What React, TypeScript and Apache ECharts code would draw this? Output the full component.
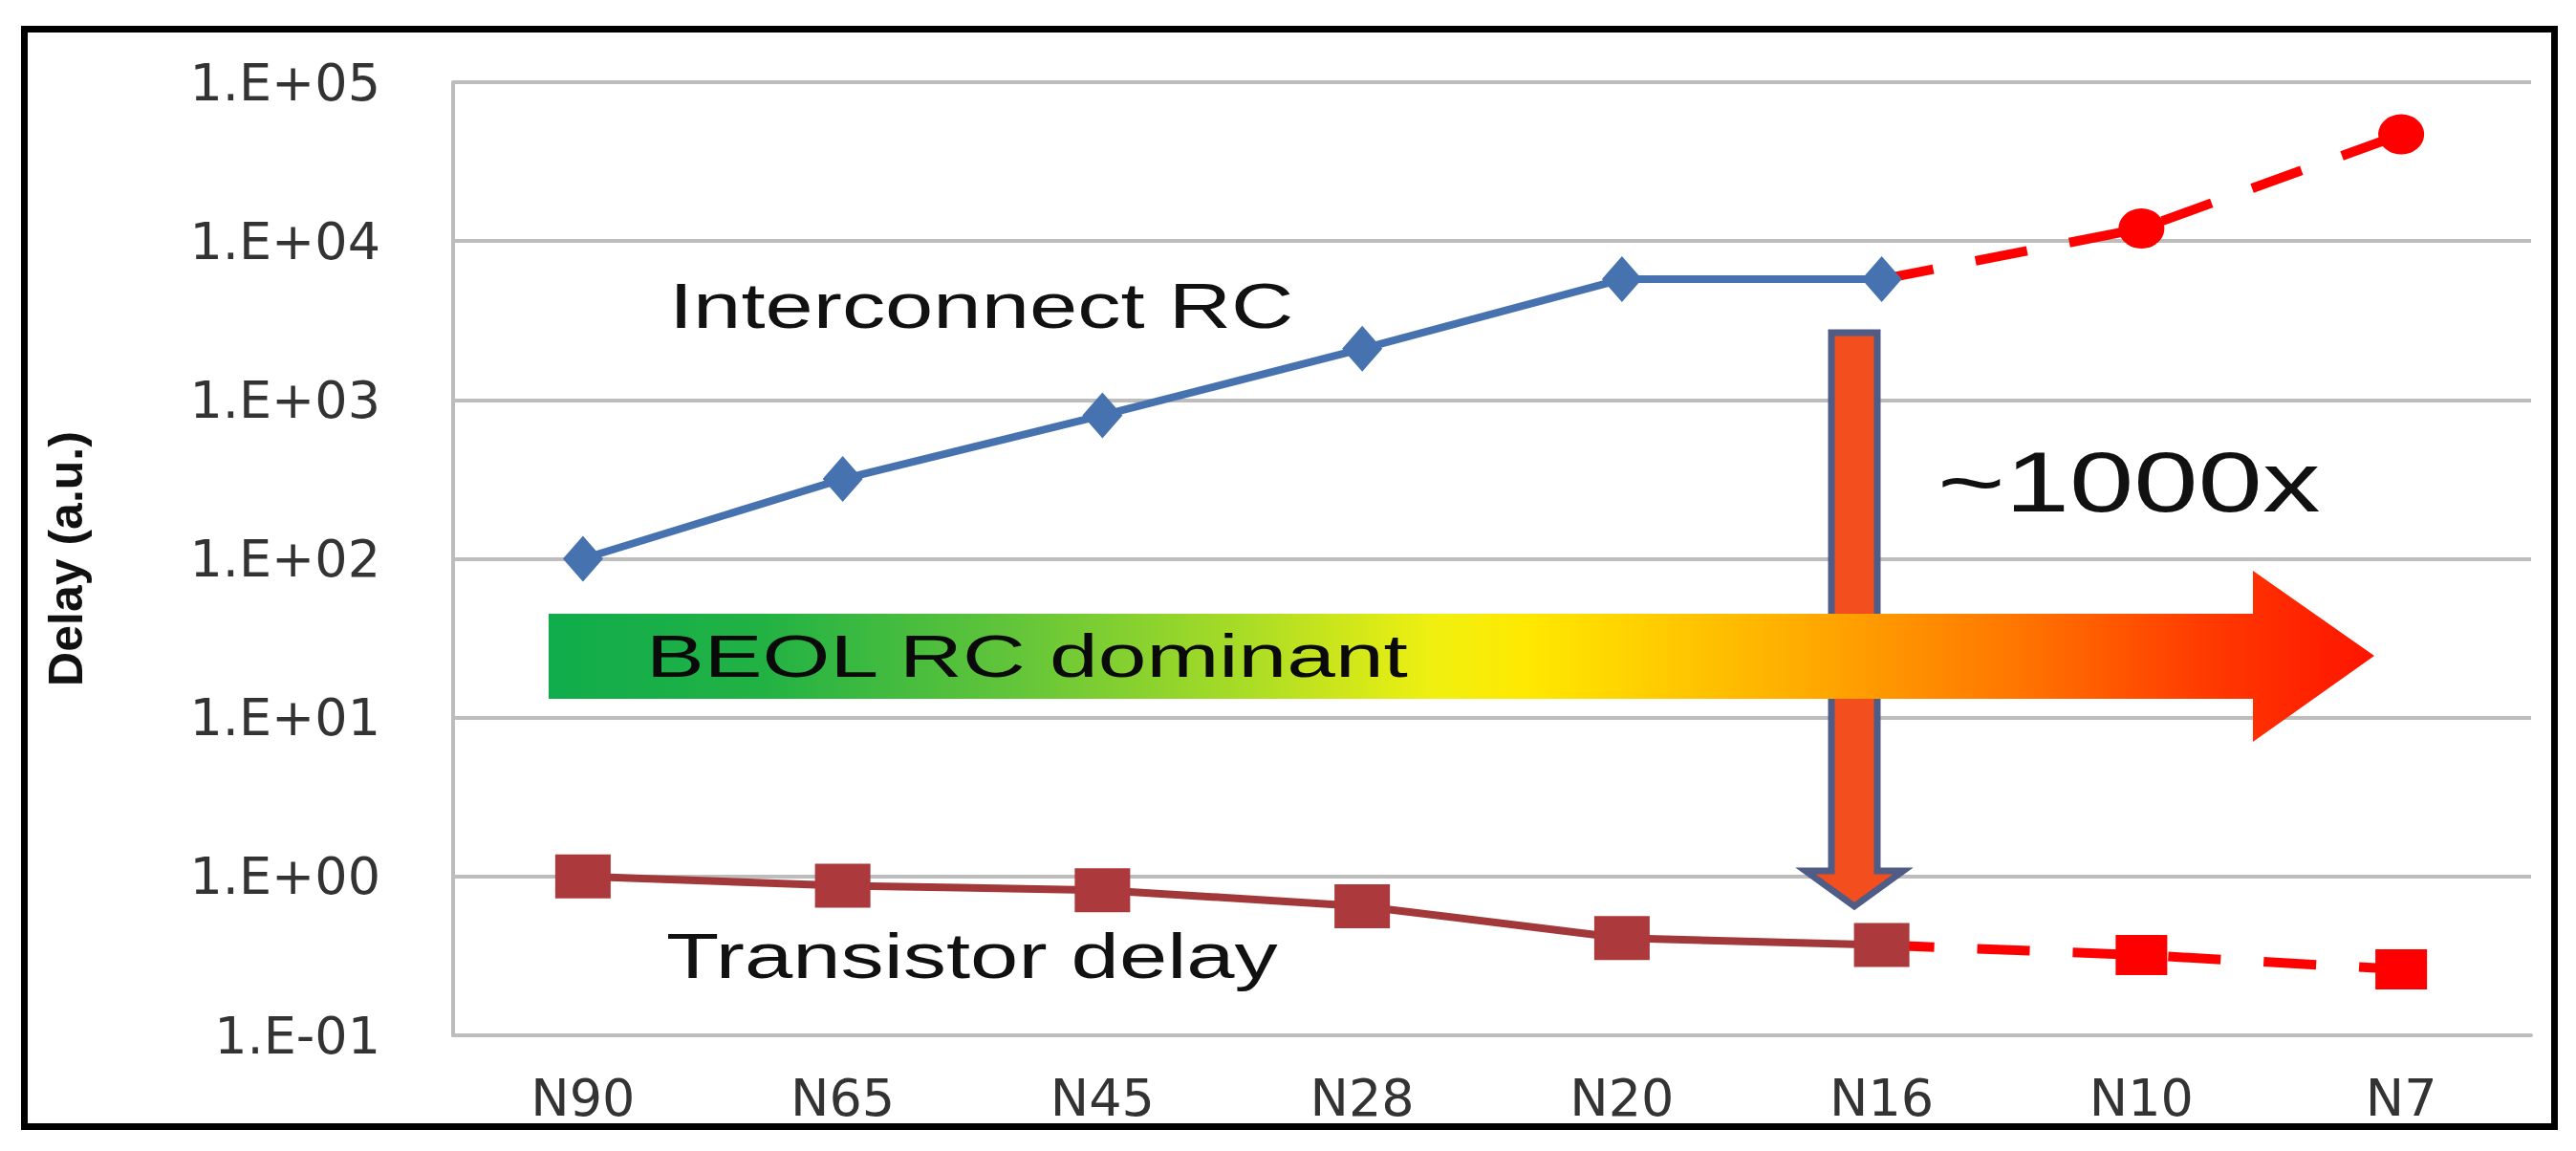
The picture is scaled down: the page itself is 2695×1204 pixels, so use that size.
import React, { useEffect, useRef } from 'react';
import * as echarts from 'echarts';

const categories = ['N90', 'N65', 'N45', 'N28', 'N20', 'N16', 'N10', 'N7'];
const interconnectRC = [100, 318, 800, 2100, 5750, 5750, null, null];
const interconnectProjected = [null, null, null, null, null, 5750, 12000, 47000];
const transistorDelay = [1.0, 0.875, 0.82, 0.65, 0.41, 0.37, null, null];
const transistorProjected = [null, null, null, null, null, 0.37, 0.32, 0.26];
const yTickLabels = ['1.E-01', '1.E+00', '1.E+01', '1.E+02', '1.E+03', '1.E+04', '1.E+05'];

const GRID = '#BDBDBD';

function projected(arr: (number | null)[], symbol: string) {
  let first = true;
  return arr.map((v) => {
    if (v == null) return null;
    if (first) {
      first = false;
      return { value: v, symbol: 'none' };
    }
    return { value: v, symbol };
  });
}

export default function App() {
  const ref = useRef<HTMLDivElement>(null);
  useEffect(() => {
    if (!ref.current) return;
    const chart = echarts.init(ref.current, undefined, { renderer: 'svg' });
    const option: any = {
      animation: false,
      backgroundColor: '#ffffff',
      grid: { left: 474, right: 47, top: 86, bottom: 121, containLabel: false },
      xAxis: {
        type: 'category',
        data: categories,
        boundaryGap: true,
        axisTick: { show: false },
        axisLine: { show: true, lineStyle: { color: GRID, width: 4 } },
        axisLabel: { margin: 38, fontFamily: 'DejaVu Sans', fontSize: 54, color: '#333' },
        splitLine: { show: false },
      },
      yAxis: {
        type: 'log',
        logBase: 10,
        min: 0.1,
        max: 100000,
        splitNumber: 6,
        name: 'Delay (a.u.)',
        nameLocation: 'middle',
        nameGap: 380,
        nameRotate: 90,
        nameTextStyle: { fontFamily: 'Liberation Sans', fontWeight: 'bold', fontSize: 50, color: '#111' },
        axisLine: { show: true, lineStyle: { color: GRID, width: 4 } },
        axisTick: { show: false },
        minorTick: { show: false },
        splitLine: { show: true, lineStyle: { color: GRID, width: 4 } },
        axisLabel: {
          margin: 76,
          fontFamily: 'DejaVu Sans',
          fontSize: 54,
          color: '#333',
          formatter: (v: number) => {
            const e = Math.round(Math.log10(v));
            return yTickLabels[e + 1] ?? '';
          },
        },
      },
      series: [
        {
          name: 'Interconnect RC',
          type: 'line',
          data: interconnectRC,
          symbol: 'diamond',
          symbolSize: [42, 48],
          lineStyle: { color: '#4673B0', width: 8 },
          itemStyle: { color: '#4673B0' },
        },
        {
          name: 'Transistor delay',
          type: 'line',
          data: transistorDelay,
          symbol: 'rect',
          symbolSize: [58, 46],
          lineStyle: { color: '#A3383A', width: 8 },
          itemStyle: { color: '#AC3A3C' },
        },
        {
          name: 'Interconnect RC (projected)',
          type: 'line',
          data: projected(interconnectProjected, 'circle'),
          symbolSize: [48, 42],
          lineStyle: { color: '#FF0000', width: 10, type: [55, 45] },
          itemStyle: { color: '#FF0000' },
        },
        {
          name: 'Transistor delay (projected)',
          type: 'line',
          data: projected(transistorProjected, 'rect'),
          symbolSize: [54, 42],
          lineStyle: { color: '#FF0000', width: 10, type: [55, 45] },
          itemStyle: { color: '#FF0000' },
        },
      ],
      graphic: [
        {
          type: 'polygon',
          shape: {
            points: [
              [1916, 348], [1964, 348], [1964, 911], [1991, 911], [1940, 948], [1889, 911], [1916, 911],
            ],
          },
          style: { fill: '#F24E1E', stroke: '#4E5C86', lineWidth: 7 },
          z: 10,
        },
        {
          type: 'polygon',
          shape: {
            points: [
              [574, 642], [2357, 642], [2357, 597], [2484, 686], [2357, 776], [2357, 731], [574, 731],
            ],
          },
          style: {
            fill: new echarts.graphic.LinearGradient(0, 0, 1, 0, [
              { offset: 0, color: '#10AC4C' },
              { offset: 0.118, color: '#22B244' },
              { offset: 0.25, color: '#60C43A' },
              { offset: 0.38, color: '#A8DC26' },
              { offset: 0.485, color: '#F0F010' },
              { offset: 0.537, color: '#FFE800' },
              { offset: 0.668, color: '#FFB400' },
              { offset: 0.8, color: '#FF7800' },
              { offset: 0.904, color: '#FF3C00' },
              { offset: 1, color: '#FF1400' },
            ]),
          },
          z: 11,
        },
        {
          type: 'text',
          x: 676,
          y: 687,
          scaleX: 1.47,
          style: { text: 'BEOL RC dominant', font: '62px "Liberation Sans"', fill: '#0a0a0a', textAlign: 'left', textVerticalAlign: 'middle', verticalAlign: 'middle' },
          z: 12,
        },
        {
          type: 'text',
          x: 700,
          y: 320,
          scaleX: 1.37,
          style: { text: 'Interconnect RC', font: '66px "Liberation Sans"', fill: '#111', textAlign: 'left', textVerticalAlign: 'middle', verticalAlign: 'middle' },
          z: 12,
        },
        {
          type: 'text',
          x: 697,
          y: 1000,
          scaleX: 1.37,
          style: { text: 'Transistor delay', font: '66px "Liberation Sans"', fill: '#111', textAlign: 'left', textVerticalAlign: 'middle', verticalAlign: 'middle' },
          z: 12,
        },
        {
          type: 'text',
          x: 2027,
          y: 504,
          scaleX: 1.36,
          style: { text: '~1000x', font: '89px "Liberation Sans"', fill: '#111', textAlign: 'left', textVerticalAlign: 'middle', verticalAlign: 'middle' },
          z: 12,
        },
        {
          type: 'rect',
          shape: { x: 25.5, y: 30.5, width: 2647, height: 1148 },
          style: { fill: 'none', stroke: '#000', lineWidth: 7 },
          z: 100,
        },
      ],
    };
    chart.setOption(option);
    return () => chart.dispose();
  }, []);
  return (
    <div
      ref={ref}
      style={{ position: 'absolute', left: 0, top: 0, width: 2695, height: 1204, background: '#fff' }}
    />
  );
}
